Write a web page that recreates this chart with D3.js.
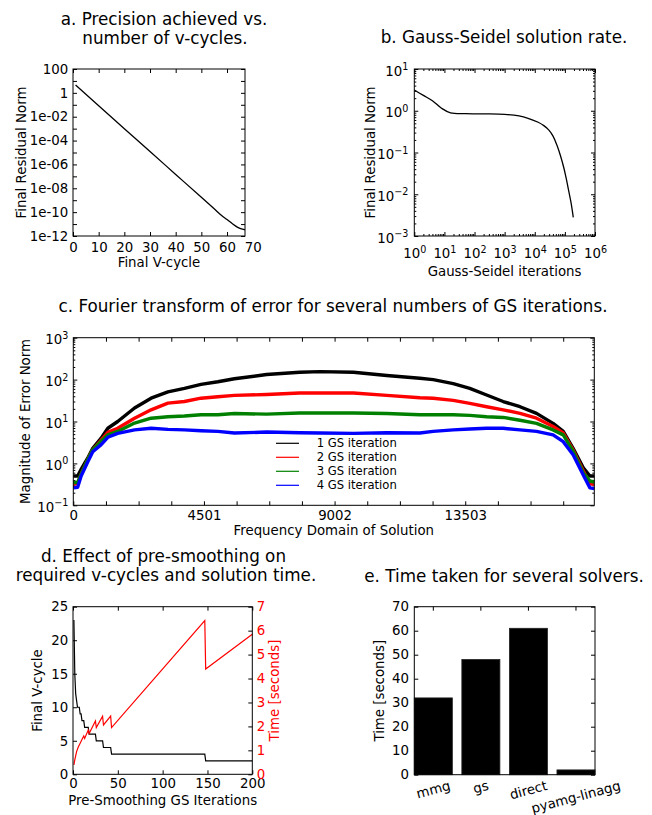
<!DOCTYPE html>
<html><head><meta charset="utf-8">
<script src="https://cdn.jsdelivr.net/npm/d3@7"></script>
<style>body{margin:0;background:#fff} svg{display:block}</style>
</head><body><svg id="c" width="652" height="815"></svg>
<script>
// ---------- DATA ----------
// a. residual vs v-cycle
const aCycles   = [1, 10, 20, 30, 40, 50, 55, 58, 60, 62, 64, 66, 67];
const aResidual = [4.5, 8.3e-2, 1e-3, 1.2e-5, 1.45e-7, 1.75e-9, 1.9e-10, 5e-11, 2.4e-11, 1.1e-11, 5.6e-12, 3.7e-12, 3.3e-12];
const aXTicks   = [0, 10, 20, 30, 40, 50, 60, 70];
// b. Gauss-Seidel
const bIters    = [1, 2, 4, 8, 16, 50, 200, 1000, 3000, 6000, 13000, 20000, 30000, 40000, 55000, 71000, 93000, 112000, 135000, 160000, 190000];
const bResidual = [3.15, 2.33, 1.74, 1.15, 0.89, 0.85, 0.84, 0.82, 0.75, 0.66, 0.53, 0.44, 0.34, 0.25, 0.148, 0.085, 0.042, 0.023, 0.0117, 0.0063, 0.0028];
// c. Fourier transform of error
const cFreq  = [0, 150, 270, 500, 670, 960, 1190, 1530, 2110, 2680, 3260, 3830, 4400, 4980, 5550, 6660, 7800, 8500, 9650, 10800, 11940, 12400, 13090, 13660, 14240, 14810, 15390, 15960, 16530, 16880, 17220, 17570, 17800, 17950];
const cGS1 = [0.5, 0.5, 0.72, 1.35, 2.3, 4.0, 6.9, 10, 21, 36, 51, 62, 77, 89, 105, 132, 150, 155, 150, 125, 108, 100, 80, 62, 43, 30, 22.5, 15.6, 9, 5.8, 2.3, 0.79, 0.5, 0.5];
const cGS2 = [0.32, 0.33, 0.55, 1.25, 2.1, 3.6, 5.5, 6.9, 12, 19, 27.5, 30, 36, 39, 42, 44, 48, 48, 48, 42, 37, 36, 32, 27, 22.5, 19, 15.6, 12, 7.6, 5.3, 2.1, 0.66, 0.32, 0.32];
const cGS3 = [0.35, 0.35, 0.55, 1.25, 2.1, 3.4, 4.8, 5.8, 9.2, 12, 13, 13.5, 14.5, 14.5, 15.5, 15, 16, 16, 16, 15.5, 14.5, 14.5, 14.5, 14, 13, 12.5, 10.7, 9, 6.3, 4.8, 1.95, 0.6, 0.38, 0.36];
const cGS4 = [0.26, 0.27, 0.5, 1.1, 1.9, 2.8, 4.2, 5.2, 6.3, 6.9, 6.5, 6.3, 6.0, 5.8, 5.3, 5.6, 5.4, 5.3, 5.2, 5.4, 5.3, 5.8, 6.3, 6.6, 6.9, 6.9, 6.3, 5.8, 4.8, 3.3, 1.6, 0.53, 0.26, 0.25];
const cSeriesNames = ["1 GS iteration", "2 GS iteration", "3 GS iteration", "4 GS iteration"];
const cTickLabels = [0, 4501, 9002, 13503];
// d. pre-smoothing
const dIterV  = [1, 2, 3, 4, 5, 7, 8, 9, 10, 12, 13, 17, 18, 25, 26, 33, 34, 42, 43, 147, 148, 200];
const dVcycle = [23, 15, 12, 11, 10, 10, 9, 9, 8, 8, 7, 7, 6, 6, 5, 5, 4, 4, 3, 3, 2, 2];
const dIterT  = [1, 2, 4, 6, 8, 10, 12, 13, 17, 18, 25, 26, 33, 34, 42, 43, 147, 148, 200];
const dTime   = [0.39, 0.6, 0.95, 1.15, 1.3, 1.45, 1.6, 1.5, 1.85, 1.7, 2.23, 1.95, 2.43, 2.06, 2.43, 1.95, 6.42, 4.4, 5.85];
// e. solvers
const eSolvers = ["mmg", "gs", "direct", "pyamg-linagg"];
const eTimes   = [32, 48, 61, 2];

// ---------- HELPERS ----------
const FONT = "DejaVu Sans, sans-serif";
const FS = 13.33, TFS = 16.8;
const svg = d3.select("#c");

function txt(x, y, s, o = {}) {
  const t = svg.append("text").attr("x", x).attr("y", y).text(s)
    .attr("font-family", FONT).attr("font-size", o.size || FS)
    .attr("fill", o.color || "#000").attr("text-anchor", o.anchor || "middle");
  if (o.rot) t.attr("transform", `rotate(${o.rot},${x},${y})`);
  return t;
}
function styleAxis(g, color) {
  g.select(".domain").remove();
  g.attr("font-family", FONT).attr("font-size", FS);
  g.selectAll(".tick line").attr("stroke", "#000").attr("stroke-width", 1);
  g.selectAll(".tick text").attr("fill", color || "#000");
  return g;
}
function frame(x0, y0, x1, y1) {
  svg.append("rect").attr("x", x0).attr("y", y0).attr("width", x1 - x0).attr("height", y1 - y0)
    .attr("fill", "none").attr("stroke", "#000").attr("stroke-width", 1);
}
function decades(a, b) { const r = []; for (let e = a; e <= b; e++) r.push(Math.pow(10, e)); return r; }
function minors(a, b) { const r = []; for (let e = a; e < b; e++) for (let m = 2; m <= 9; m++) r.push(m * Math.pow(10, e)); return r; }
function sup(g, yOff) {
  g.selectAll(".tick text").each(function (d) {
    const e = Math.round(Math.log10(d));
    const t = d3.select(this);
    t.text(null).attr("dy", null).attr(yOff[0], yOff[1]);
    t.append("tspan").text("10");
    t.append("tspan").attr("dy", "-0.55em").attr("font-size", "9.6px").text(e < 0 ? "\u2212" + (-e) : e);
  });
}

// ---------- PANEL A ----------
{
  const X0 = 73, X1 = 245, Y0 = 69, Y1 = 236;
  const x = d3.scaleLinear().domain([0, 67]).range([X0, X1]);
  const y = d3.scaleLog().domain([1e-12, 1e2]).range([Y1, Y0]);
  const fmt = d => { const e = Math.round(Math.log10(d)); if (e % 2) return ""; if (e === 2) return "100"; if (e === 0) return "1"; return "1e-" + String(-e).padStart(2, "0"); };
  const gb = styleAxis(svg.append("g").attr("transform", `translate(0,${Y1})`)
    .call(d3.axisBottom(x).tickValues(aXTicks).tickSize(-4).tickPadding(7).tickFormat(d3.format("d"))));
  gb.selectAll(".tick").filter(d => d > 67).select("line").remove();
  styleAxis(svg.append("g").attr("transform", `translate(0,${Y0})`)
    .call(d3.axisTop(x).tickValues(aXTicks.filter(d => d <= 67)).tickSize(-4).tickFormat(() => "")));
  styleAxis(svg.append("g").attr("transform", `translate(${X0},0)`)
    .call(d3.axisLeft(y).tickValues(decades(-12, 2)).tickSize(-4).tickPadding(4.7).tickFormat(fmt)));
  styleAxis(svg.append("g").attr("transform", `translate(${X1},0)`)
    .call(d3.axisRight(y).tickValues(decades(-12, 2)).tickSize(-4).tickFormat(() => "")));
  svg.append("path").datum(aCycles.map((c, i) => [c, aResidual[i]]))
    .attr("d", d3.line().x(d => x(d[0])).y(d => y(d[1])).curve(d3.curveMonotoneX))
    .attr("fill", "none").attr("stroke", "#000").attr("stroke-width", 1.3);
  frame(X0, Y0, X1, Y1);
  txt(164, 24.5, "a. Precision achieved vs.", { size: TFS });
  txt(165, 44, "number of v-cycles.", { size: TFS });
  txt(159, 266.5, "Final V-cycle");
  txt(26, 152.5, "Final Residual Norm", { rot: -90 });
}

// ---------- PANEL B ----------
{
  const X0 = 414.3, X1 = 595, Y0 = 69, Y1 = 236;
  const x = d3.scaleLog().domain([1, 1e6]).range([X0, X1]);
  const y = d3.scaleLog().domain([1e-3, 10]).range([Y1, Y0]);
  const gb = styleAxis(svg.append("g").attr("transform", `translate(0,${Y1})`)
    .call(d3.axisBottom(x).tickValues(decades(0, 6)).tickSize(-4)));
  sup(gb, ["y", 22.3]);
  styleAxis(svg.append("g").attr("transform", `translate(0,${Y1})`)
    .call(d3.axisBottom(x).tickValues(minors(0, 6)).tickSize(-2).tickFormat(() => "")));
  styleAxis(svg.append("g").attr("transform", `translate(0,${Y0})`)
    .call(d3.axisTop(x).tickValues(decades(0, 6)).tickSize(-4).tickFormat(() => "")));
  styleAxis(svg.append("g").attr("transform", `translate(0,${Y0})`)
    .call(d3.axisTop(x).tickValues(minors(0, 6)).tickSize(-2).tickFormat(() => "")));
  const gl = styleAxis(svg.append("g").attr("transform", `translate(${X0},0)`)
    .call(d3.axisLeft(y).tickValues(decades(-3, 1)).tickSize(-4).tickPadding(6)));
  sup(gl, ["y", 6]);
  styleAxis(svg.append("g").attr("transform", `translate(${X0},0)`)
    .call(d3.axisLeft(y).tickValues(minors(-3, 1)).tickSize(-2).tickFormat(() => "")));
  styleAxis(svg.append("g").attr("transform", `translate(${X1},0)`)
    .call(d3.axisRight(y).tickValues(decades(-3, 1)).tickSize(-4).tickFormat(() => "")));
  styleAxis(svg.append("g").attr("transform", `translate(${X1},0)`)
    .call(d3.axisRight(y).tickValues(minors(-3, 1)).tickSize(-2).tickFormat(() => "")));
  svg.append("path").datum(bIters.map((c, i) => [c, bResidual[i]]))
    .attr("d", d3.line().x(d => x(d[0])).y(d => y(d[1])).curve(d3.curveCatmullRom))
    .attr("fill", "none").attr("stroke", "#000").attr("stroke-width", 1.3);
  frame(X0, Y0, X1, Y1);
  txt(504, 42.5, "b. Gauss-Seidel solution rate.", { size: TFS });
  txt(504.6, 276, "Gauss-Seidel iterations");
  txt(375, 152.5, "Final Residual Norm", { rot: -90 });
}

// ---------- PANEL C ----------
{
  const X0 = 73.3, X1 = 594.3, Y0 = 337.7, Y1 = 505.3;
  const x = d3.scaleLinear().domain([0, 17950]).range([X0, X1]);
  const y = d3.scaleLog().domain([0.1, 1000]).range([Y1, Y0]);
  const step = cTickLabels[1] / 4;
  const xt = d3.range(0, 16).map(k => k * step);
  styleAxis(svg.append("g").attr("transform", `translate(0,${Y1})`)
    .call(d3.axisBottom(x).tickValues(xt).tickSize(-4).tickPadding(5.5)
      .tickFormat(d => { const v = cTickLabels.find(t => Math.abs(t - d) < 1); return v === undefined ? "" : String(v); })));
  styleAxis(svg.append("g").attr("transform", `translate(0,${Y0})`)
    .call(d3.axisTop(x).tickValues(xt).tickSize(-4).tickFormat(() => "")));
  const gl = styleAxis(svg.append("g").attr("transform", `translate(${X0},0)`)
    .call(d3.axisLeft(y).tickValues(decades(-1, 3)).tickSize(-4).tickPadding(5)));
  sup(gl, ["y", 5.7]);
  styleAxis(svg.append("g").attr("transform", `translate(${X0},0)`)
    .call(d3.axisLeft(y).tickValues(minors(-1, 3)).tickSize(-2).tickFormat(() => "")));
  styleAxis(svg.append("g").attr("transform", `translate(${X1},0)`)
    .call(d3.axisRight(y).tickValues(decades(-1, 3)).tickSize(-4).tickFormat(() => "")));
  styleAxis(svg.append("g").attr("transform", `translate(${X1},0)`)
    .call(d3.axisRight(y).tickValues(minors(-1, 3)).tickSize(-2).tickFormat(() => "")));
  const series = [cGS1, cGS2, cGS3, cGS4];
  const colors = ["#000000", "#ff0000", "#008000", "#0000ff"];
  const line = d3.line().x(d => x(d[0])).y(d => y(d[1]));
  series.forEach((s, i) => {
    svg.append("path").datum(cFreq.map((f, j) => [f, s[j]]))
      .attr("d", line).attr("fill", "none").attr("stroke", colors[i])
      .attr("stroke-width", 3.4).attr("stroke-linejoin", "round");
  });
  // legend
  cSeriesNames.forEach((n, i) => {
    const yy = 443.3 + i * 14;
    svg.append("line").attr("x1", 276).attr("x2", 299).attr("y1", yy).attr("y2", yy)
      .attr("stroke", colors[i]).attr("stroke-width", 1.2);
    txt(316.7, yy + 4, n, { size: 11.6, anchor: "start" });
  });
  frame(X0, Y0, X1, Y1);
  txt(333, 312, "c. Fourier transform of error for several numbers of GS iterations.", { size: TFS });
  txt(333.8, 535, "Frequency Domain of Solution");
  txt(30, 421.5, "Magnitude of Error Norm", { rot: -90 });
}

// ---------- PANEL D ----------
{
  const X0 = 73, X1 = 252.3, Y0 = 606.7, Y1 = 774.3;
  const x = d3.scaleLinear().domain([0, 200]).range([X0, X1]);
  const yl = d3.scaleLinear().domain([0, 25]).range([Y1, Y0]);
  const yr = d3.scaleLinear().domain([0, 7]).range([Y1, Y0]);
  styleAxis(svg.append("g").attr("transform", `translate(0,${Y1})`)
    .call(d3.axisBottom(x).tickValues([0, 50, 100, 150, 200]).tickSize(-4).tickPadding(4.5).tickFormat(d3.format("d"))));
  styleAxis(svg.append("g").attr("transform", `translate(0,${Y0})`)
    .call(d3.axisTop(x).tickValues([0, 50, 100, 150, 200]).tickSize(-4).tickFormat(() => "")));
  styleAxis(svg.append("g").attr("transform", `translate(${X0},0)`)
    .call(d3.axisLeft(yl).tickValues([0, 5, 10, 15, 20, 25]).tickSize(-4).tickPadding(4.7).tickFormat(d3.format("d"))));
  styleAxis(svg.append("g").attr("transform", `translate(${X1},0)`)
    .call(d3.axisRight(yr).tickValues(d3.range(0, 8)).tickSize(-4).tickPadding(4.4).tickFormat(d3.format("d"))), "#ff0000");
  svg.append("path").datum(dIterV.map((c, i) => [c, dVcycle[i]]))
    .attr("d", d3.line().x(d => x(d[0])).y(d => yl(d[1])))
    .attr("fill", "none").attr("stroke", "#000").attr("stroke-width", 1.2);
  svg.append("path").datum(dIterT.map((c, i) => [c, dTime[i]]))
    .attr("d", d3.line().x(d => x(d[0])).y(d => yr(d[1])))
    .attr("fill", "none").attr("stroke", "#ff0000").attr("stroke-width", 1.2);
  frame(X0, Y0, X1, Y1);
  txt(163.5, 562, "d. Effect of pre-smoothing on", { size: TFS });
  txt(166, 581, "required v-cycles and solution time.", { size: TFS });
  txt(162.7, 805, "Pre-Smoothing GS Iterations");
  txt(42, 690.5, "Final V-cycle", { rot: -90 });
  txt(279, 690.5, "Time [seconds]", { rot: -90, color: "#ff0000" });
}

// ---------- PANEL E ----------
{
  const X0 = 414.3, X1 = 595, Y0 = 606.7, Y1 = 774.7;
  const x = d3.scaleBand().domain(eSolvers).range([X0, X1]).paddingInner(0.2).paddingOuter(0);
  const y = d3.scaleLinear().domain([0, 70]).range([Y1, Y0]);
  styleAxis(svg.append("g").attr("transform", `translate(0,${Y1})`)
    .call(d3.axisBottom(x).tickSize(-4).tickFormat(() => "")));
  styleAxis(svg.append("g").attr("transform", `translate(0,${Y0})`)
    .call(d3.axisTop(x).tickSize(-4).tickFormat(() => "")));
  styleAxis(svg.append("g").attr("transform", `translate(${X0},0)`)
    .call(d3.axisLeft(y).tickValues(d3.range(0, 71, 10)).tickSize(-4).tickPadding(5.3).tickFormat(d3.format("d"))));
  styleAxis(svg.append("g").attr("transform", `translate(${X1},0)`)
    .call(d3.axisRight(y).tickValues(d3.range(0, 71, 10)).tickSize(-4).tickFormat(() => "")));
  svg.append("g").selectAll("rect").data(eSolvers).join("rect")
    .attr("x", d => x(d)).attr("width", x.bandwidth())
    .attr("y", (d, i) => y(eTimes[i])).attr("height", (d, i) => y(0) - y(eTimes[i]))
    .attr("fill", "#000").attr("stroke", "#222").attr("stroke-width", 0.8);
  frame(X0, Y0, X1, Y1);
  const ang = 15 * Math.PI / 180, lh = 15.5;
  eSolvers.forEach(s => {
    const cx = x(s) + x.bandwidth() / 2;
    const t = txt(cx, 0, s);
    const w = t.node().getComputedTextLength();
    const hb = w * Math.sin(ang) + lh * Math.cos(ang);
    const cy = Y1 + 3 + hb / 2;
    t.attr("y", cy).attr("dominant-baseline", "central").attr("transform", `rotate(-15,${cx},${cy})`);
  });
  txt(504, 582, "e. Time taken for several solvers.", { size: TFS });
  txt(384, 690.7, "Time [seconds]", { rot: -90 });
}
</script></body></html>
